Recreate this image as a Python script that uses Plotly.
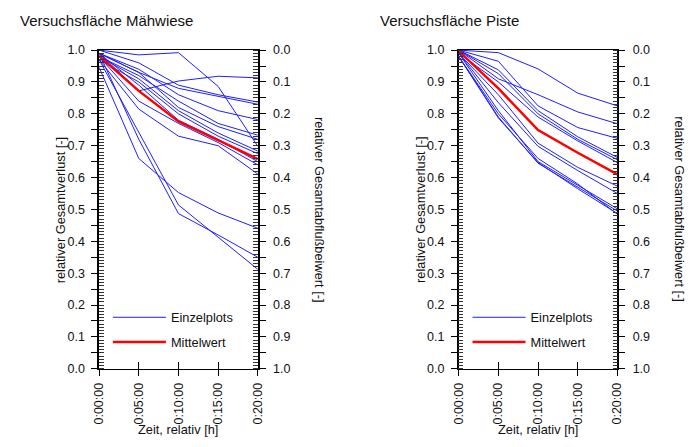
import plotly.graph_objects as go

# ---- data -------------------------------------------------------------
minutes = [0, 5, 10, 15, 20]
time_labels = ["0:00:00", "0:05:00", "0:10:00", "0:15:00", "0:20:00"]

# relative total loss per single plot, Mähwiese
maehwiese_plots = [
    [1.00, 0.985, 0.992, 0.886, 0.698],
    [0.99, 0.872, 0.903, 0.918, 0.913],
    [0.946, 0.660, 0.553, 0.489, 0.441],
    [0.97, 0.740, 0.514, 0.413, 0.312],
    [0.99, 0.720, 0.487, 0.420, 0.350],
    [1.00, 0.960, 0.890, 0.860, 0.837],
    [0.99, 0.930, 0.880, 0.855, 0.830],
    [0.99, 0.940, 0.860, 0.810, 0.782],
    [0.98, 0.920, 0.840, 0.770, 0.733],
    [0.99, 0.930, 0.820, 0.760, 0.720],
    [0.98, 0.910, 0.810, 0.740, 0.683],
    [0.97, 0.900, 0.800, 0.730, 0.675],
    [0.99, 0.890, 0.780, 0.720, 0.650],
    [0.98, 0.840, 0.770, 0.710, 0.640],
    [0.97, 0.815, 0.730, 0.700, 0.611],
]
maehwiese_mean = [0.982, 0.872, 0.776, 0.718, 0.658]

# relative total loss per single plot, Piste
piste_plots = [
    [1.00, 0.992, 0.941, 0.865, 0.825],
    [1.00, 0.910, 0.860, 0.806, 0.769],
    [1.00, 0.965, 0.825, 0.757, 0.723],
    [1.00, 0.938, 0.810, 0.728, 0.663],
    [1.00, 0.926, 0.800, 0.720, 0.656],
    [0.99, 0.900, 0.790, 0.715, 0.647],
    [0.99, 0.860, 0.708, 0.632, 0.573],
    [0.99, 0.835, 0.698, 0.622, 0.550],
    [0.99, 0.810, 0.650, 0.575, 0.502],
    [0.98, 0.790, 0.645, 0.570, 0.495],
    [0.98, 0.787, 0.647, 0.565, 0.487],
    [0.98, 0.800, 0.660, 0.580, 0.485],
]
piste_mean = [0.997, 0.880, 0.749, 0.678, 0.610]

panel_titles = ["Versuchsfläche Mähwiese", "Versuchsfläche Piste"]
left_title = "relativer Gesamtverlust [-]"
right_title = "relativer Gesamtabflußbeiwert [-]"
x_title = "Zeit, relativ [h]"
legend_names = ["Einzelplots", "Mittelwert"]

y_ticks = [round(i * 0.05, 2) for i in range(21)]
y_text = [f"{v:.1f}" if i % 2 == 0 else "" for i, v in enumerate(y_ticks)]

# ---- styling ----------------------------------------------------------
W, H = 694, 447
FONT = "Liberation Sans, Arial, sans-serif"
BLUE = "#1f1fff"
RED = "#ff0000"
TXT = "#111"

# panel geometry in pixels
panels = [
    dict(x0=94, x1=256, legend="legend", title_x=11),
    dict(x0=461, x1=623, legend="legend2", title_x=379),
]
PY0, PY1 = 44.5, 373.5
ydom = [1 - PY1 / H, 1 - PY0 / H]

fig = go.Figure()

datasets = [(maehwiese_plots, maehwiese_mean), (piste_plots, piste_mean)]
for p, (plots, mean) in enumerate(datasets):
    xa = "x" if p == 0 else "x2"
    ya = "y" if p == 0 else "y3"
    leg = panels[p]["legend"]
    for i, series in enumerate(plots):
        fig.add_trace(go.Scatter(
            x=minutes, y=series, mode="lines", xaxis=xa, yaxis=ya,
            line=dict(color=BLUE, width=1),
            name=legend_names[0], legend=leg, legendgroup="a",
            showlegend=(i == 0), hoverinfo="skip"))
    fig.add_trace(go.Scatter(
        x=minutes, y=mean, mode="lines", xaxis=xa, yaxis=ya,
        line=dict(color=RED, width=2.5),
        name=legend_names[1], legend=leg, legendgroup="b",
        showlegend=True, hoverinfo="skip"))
    # carriers for the secondary axes (right scale, inner x ticks)
    ya2 = "y2" if p == 0 else "y4"
    xa2 = "x3" if p == 0 else "x4"
    fig.add_trace(go.Scatter(x=[None], y=[None], xaxis=xa, yaxis=ya2,
                             showlegend=False, hoverinfo="skip"))
    fig.add_trace(go.Scatter(x=[None], y=[None], xaxis=xa2, yaxis=ya,
                             showlegend=False, hoverinfo="skip"))

tickfont = dict(family=FONT, size=12.5, color=TXT)
minor_y = dict(tickmode="linear", tick0=0, dtick=0.01, ticks="inside",
               ticklen=5, tickcolor="#333", tickwidth=1, showgrid=False)

layout = dict(
    width=W, height=H, margin=dict(l=0, r=0, t=0, b=0),
    paper_bgcolor="white", plot_bgcolor="white",
    font=dict(family=FONT, size=12.8, color=TXT),
    showlegend=True,
)

names = [("xaxis", "yaxis", "yaxis2", "xaxis3", "x", "y", "y2", "x3"),
         ("xaxis2", "yaxis3", "yaxis4", "xaxis4", "x2", "y3", "y4", "x4")]
for p, (xk, yk, y2k, x2k, xr, yr, y2r, x2r) in enumerate(names):
    g = panels[p]
    xdom = [g["x0"] / W, g["x1"] / W]
    layout[xk] = dict(
        domain=xdom, anchor=yr, range=[0, 20], tickmode="array",
        tickvals=minutes, ticktext=time_labels, tickangle=-90,
        ticks="outside", ticklen=6, tickcolor="black", tickwidth=1,
        showline=True, linecolor="black", linewidth=1, mirror=True,
        showgrid=False, zeroline=False, tickfont=tickfont,
        ticklabelstandoff=2, fixedrange=True)
    layout[x2k] = dict(
        domain=xdom, anchor=yr, overlaying=xr, range=[0, 20],
        tickmode="array", tickvals=minutes, ticktext=[""] * 5,
        ticks="inside", ticklen=7, tickcolor="black", tickwidth=1,
        showline=False, showgrid=False, zeroline=False, fixedrange=True)
    layout[yk] = dict(
        domain=ydom, anchor=xr, range=[0, 1], tickmode="array",
        tickvals=y_ticks, ticktext=y_text,
        ticks="outside", ticklen=6, tickcolor="black", tickwidth=1,
        showline=True, linecolor="black", linewidth=1.5,
        showgrid=False, zeroline=False, tickfont=tickfont,
        ticklabelstandoff=4, minor=minor_y, fixedrange=True)
    layout[y2k] = dict(
        domain=ydom, anchor=xr, overlaying=yr, side="right",
        range=[1, 0], tickmode="array",
        tickvals=y_ticks, ticktext=y_text,
        ticks="outside", ticklen=6, tickcolor="black", tickwidth=1,
        showline=True, linecolor="black", linewidth=1.5,
        showgrid=False, zeroline=False, tickfont=tickfont,
        ticklabelstandoff=5, minor=minor_y, fixedrange=True)

    # legend inside the lower part of the panel
    legkey = g["legend"]
    layout[legkey] = dict(
        x=(g["x0"] + 9) / W, y=1 - 305 / H, xanchor="left", yanchor="top",
        bgcolor="rgba(0,0,0,0)", borderwidth=0, traceorder="grouped",
        tracegroupgap=5, itemwidth=53,
        font=dict(family=FONT, size=12.8, color=TXT))

annotations = []
for p, g in enumerate(panels):
    cx = (g["x0"] + g["x1"]) / 2
    cy = 1 - ((PY0 + PY1) / 2) / H
    annotations.append(dict(
        text=panel_titles[p], x=g["title_x"] / W, y=1 - 14 / H,
        xref="paper", yref="paper", xanchor="left", yanchor="middle",
        showarrow=False, font=dict(family=FONT, size=15, color=TXT)))
    annotations.append(dict(
        text=left_title, x=(g["x0"] - 39) / W, y=cy,
        xref="paper", yref="paper", xanchor="center", yanchor="middle",
        textangle=-90, showarrow=False,
        font=dict(family=FONT, size=12.8, color=TXT)))
    annotations.append(dict(
        text=right_title, x=(g["x1"] + 63) / W, y=cy,
        xref="paper", yref="paper", xanchor="center", yanchor="middle",
        textangle=90, showarrow=False,
        font=dict(family=FONT, size=12.8, color=TXT)))
    annotations.append(dict(
        text=x_title, x=cx / W, y=1 - 436 / H,
        xref="paper", yref="paper", xanchor="center", yanchor="middle",
        showarrow=False, font=dict(family=FONT, size=12.8, color=TXT)))
layout["annotations"] = annotations

fig.update_layout(**layout)
fig.write_html("out.html")
